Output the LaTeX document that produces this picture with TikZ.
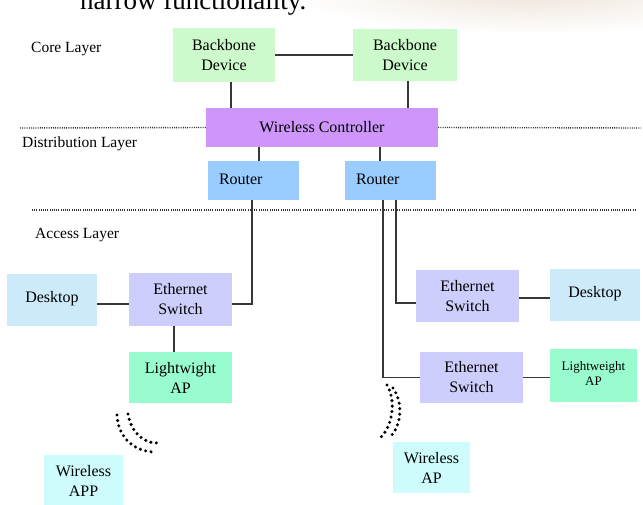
\documentclass[tikz,border=0pt]{standalone}
\usepackage{fontspec}
\setmainfont{Liberation Serif}
\definecolor{bbgreen}{RGB}{204,250,204}
\definecolor{wcpurple}{RGB}{206,150,250}
\definecolor{routerblue}{RGB}{153,204,255}
\definecolor{deskblue}{RGB}{204,234,250}
\definecolor{switchlav}{RGB}{206,206,252}
\definecolor{apgreen}{RGB}{153,252,206}
\definecolor{wlcyan}{RGB}{206,252,252}
\definecolor{linegray}{RGB}{55,55,55}
\definecolor{bgtan}{RGB}{238,228,218}
\tikzset{
  box/.style={inner sep=0pt, align=center, font=\fontsize{16}{20}\selectfont},
  conn/.style={draw=linegray, line width=1.1pt},
  layerline/.style={draw=black!80, line width=1.4pt, dash pattern=on 1pt off 1.2pt},
  waves/.style={draw=black, line width=3.4pt, line cap=round, dash pattern=on 0pt off 5.5pt},
  layerlabel/.style={anchor=west, inner sep=0pt, font=\fontsize{15.5}{18}\selectfont},
}
\begin{document}
\begin{tikzpicture}[x=1pt, y=-1pt]
\useasboundingbox (0,0) rectangle (643,504);
\fill[white] (0,0) rectangle (643,504);
\shade[inner color=bgtan, outer color=white] (290,-50) rectangle (770,34);
\node[anchor=base west, inner sep=0pt, font=\fontsize{27}{30}\selectfont] (title) at (80,9) {narrow functionality.};

% layer lines
\node[box, fill=wcpurple, minimum width=232pt, minimum height=39pt] (wc) at (322,127.5) {Wireless Controller};
\draw[layerline] (20,128) -- (wc.west);
\draw[layerline] (wc.east) -- (641,128);
\draw[layerline] (32,210) -- (636,210);

% labels
\node[layerlabel] (core) at (31,49) {Core Layer};
\node[layerlabel] (dist) at (22,144) {Distribution Layer};
\node[layerlabel] (acc) at (35,235) {Access Layer};

% nodes
\node[box, fill=bbgreen, minimum width=102pt, minimum height=54pt] (bb1) at (224,55) {Backbone\\Device};
\node[box, fill=bbgreen, minimum width=104pt, minimum height=52pt] (bb2) at (405,55) {Backbone\\Device};
\node[box, fill=routerblue, minimum width=91pt, minimum height=39pt, text width=69pt, align=left] (r1) at (253.5,180.5) {\raisebox{3pt}{Router}};
\node[box, fill=routerblue, minimum width=91pt, minimum height=39pt, text width=69pt, align=left] (r2) at (390.5,180.5) {\raisebox{3pt}{Router}};
\node[box, fill=deskblue, minimum width=90pt, minimum height=52pt] (desk1) at (52,300) {\raisebox{7pt}{Desktop}};
\node[box, fill=switchlav, minimum width=103pt, minimum height=53pt] (sw1) at (180.5,299.5) {Ethernet\\Switch};
\node[box, fill=apgreen, minimum width=103pt, minimum height=51pt] (lap1) at (180.5,377.5) {Lightwight\\AP};
\node[box, fill=switchlav, minimum width=103pt, minimum height=52pt] (sw2) at (467.5,296) {Ethernet\\Switch};
\node[box, fill=deskblue, minimum width=90pt, minimum height=52pt] (desk2) at (595,295) {\raisebox{7pt}{Desktop}};
\node[box, fill=switchlav, minimum width=103pt, minimum height=51pt] (sw3) at (471.5,377.5) {Ethernet\\Switch};
\node[box, fill=apgreen, minimum width=87pt, minimum height=53pt, font=\fontsize{13}{16}\selectfont] (lap2) at (593.5,375.5) {\raisebox{4pt}{\shortstack{Lightweight\\[1pt]AP}}};
\node[box, fill=wlcyan, minimum width=77pt, minimum height=51pt] (wap) at (431.5,467.5) {Wireless\\AP};
\node[box, fill=wlcyan, minimum width=79pt, minimum height=51pt] (wapp) at (83.5,480.5) {Wireless\\APP};

% connectors
\draw[conn] (bb1.east) -- (bb2.west);
\draw[conn] ([xshift=7pt]bb1.south) -- ([xshift=7pt]bb1.south |- wc.north);
\draw[conn] ([xshift=3pt]bb2.south) -- ([xshift=3pt]bb2.south |- wc.north);
\draw[conn] ([xshift=5.5pt]r1.north) -- ([xshift=5.5pt]r1.north |- wc.south);
\draw[conn] ([xshift=-10.5pt]r2.north) -- ([xshift=-10.5pt]r2.north |- wc.south);
\draw[conn] ([xshift=-1.5pt]r1.south) |- ([yshift=-4.5pt]sw1.east);
\draw[conn] ([xshift=5.5pt]r2.south) |- ([yshift=-7pt]sw2.west);
\draw[conn] ([xshift=-7.5pt]r2.south) |- (sw3.west);
\draw[conn] ([yshift=-4pt]desk1.east) -- ([yshift=-4pt]desk1.east -| sw1.west);
\draw[conn] ([yshift=-2pt]sw2.east) -- ([yshift=-2pt]sw2.east -| desk2.west);
\draw[conn] (sw3.east) -- (sw3.east -| lap2.west);
\draw[conn] ([xshift=-6.5pt]sw1.south) -- ([xshift=-6.5pt]sw1.south |- lap1.north);

% wireless waves
\draw[waves] (117,415) .. controls (118,438) and (135,452) .. (155,452);
\draw[waves] (128,414) .. controls (131,432) and (143,443) .. (157,443);
\draw[waves] (387,385) .. controls (396,400) and (393,425) .. (381,437);
\draw[waves] (393,388) .. controls (403,402) and (402,425) .. (390,437);
\end{tikzpicture}
\end{document}
